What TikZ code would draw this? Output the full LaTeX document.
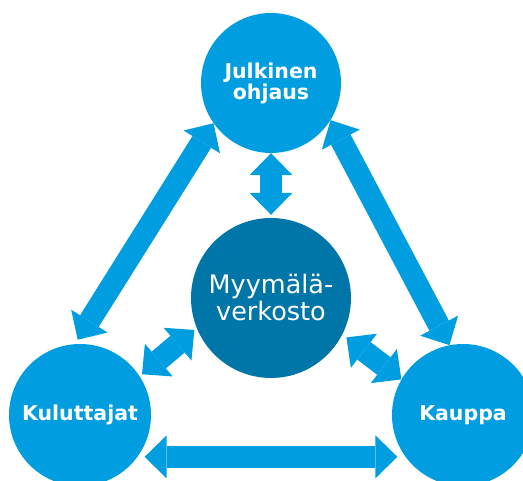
\documentclass[tikz,border=0pt]{standalone}
\usepackage{fontspec}
\setmainfont{DejaVu Sans}
\usetikzlibrary{arrows.meta}
\definecolor{lightblue}{RGB}{0,158,224}
\definecolor{darkblue}{RGB}{0,118,168}
\begin{document}
\begin{tikzpicture}[x=1pt,y=1pt,
    party/.style={circle, fill=lightblue, text=white, inner sep=0pt, minimum size=142pt, align=center, font=\bfseries\fontsize{20.5}{21}\selectfont},
    twoway/.style={lightblue, line width=22pt, {Triangle[length=22pt,width=43pt,line width=0pt]}-{Triangle[length=22pt,width=43pt,line width=0pt]}}]
    \useasboundingbox (0,0) rectangle (523,481);
    \clip (0,0) rectangle (523,481);

    %Nodes
    \node[party, minimum size=140pt] (jul) at (271,398) {Julkinen\\ohjaus};
    \node[party, fill=darkblue, minimum size=160pt, font=\fontsize{25.5}{27}\selectfont] (myy) at (271,183) {Myymälä-\\verkosto};
    \node[party] (kul) at (80,66) {Kuluttajat};
    \node[party] (kau) at (463,66) {Kauppa};

    %Arrows
    \draw[twoway, shorten >=3pt] (jul.south) -- (myy.north);
    \draw[twoway, shorten >=5pt] (jul.215) -- (kul.94);
    \draw[twoway] (jul.328) -- (kau.101);
    \draw[twoway, shorten <=7pt, shorten >=8pt] (kul.324) -- (kau.216);
    \draw[twoway, shorten <=3pt, shorten >=3pt] (kul.33) -- (myy.202);
    \draw[twoway, shorten <=5pt] (myy.333) -- (kau.150);
\end{tikzpicture}
\end{document}
